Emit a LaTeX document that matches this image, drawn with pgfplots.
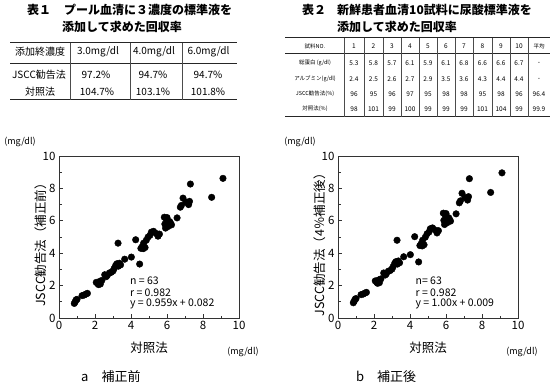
\documentclass[border=0pt]{standalone}
\usepackage{fontspec}
\setmainfont{Noto Sans CJK JP}
\usepackage{pgfplots}
\pgfplotsset{compat=1.18}
\newcommand{\fs}[1]{\fontsize{#1}{#1}\selectfont}

\pgfplotstableread{
x y
0.85 0.90
0.90 1.00
0.95 1.12
1.00 1.15
1.28 1.38
1.40 1.42
1.50 1.48
1.58 1.52
2.07 2.20
2.15 2.12
2.20 2.06
2.26 2.26
2.30 2.10
2.38 2.32
2.54 2.67
2.62 2.55
2.68 2.62
2.80 2.78
2.90 2.82
3.00 2.90
3.06 3.05
3.15 3.25
3.22 3.35
3.28 4.62
3.30 3.20
3.35 3.38
3.42 3.28
3.65 3.63
4.02 3.76
4.26 4.83
4.48 3.33
4.55 4.30
4.62 4.40
4.68 4.28
4.70 4.62
4.78 4.35
4.85 4.80
4.95 5.00
5.05 5.10
5.13 5.30
5.25 5.35
5.40 5.22
5.50 5.05
5.58 5.18
5.85 6.22
5.88 5.80
5.92 5.55
5.96 6.10
6.00 6.20
6.06 5.65
6.15 5.95
6.20 5.85
6.25 5.75
6.56 6.18
6.74 6.84
6.80 6.95
6.89 7.40
7.05 7.15
7.20 7.00
7.25 7.20
7.30 8.27
8.48 7.45
9.11 8.62
}\dataA

\pgfplotstableread{
x y
0.85 0.94
0.90 1.04
0.95 1.16
1.00 1.20
1.28 1.44
1.40 1.48
1.50 1.54
1.58 1.58
2.07 2.29
2.15 2.20
2.20 2.14
2.26 2.35
2.30 2.18
2.38 2.41
2.54 2.78
2.62 2.65
2.68 2.72
2.80 2.89
2.90 2.93
3.00 3.02
3.06 3.17
3.15 3.38
3.22 3.48
3.28 4.80
3.30 3.33
3.35 3.52
3.42 3.41
3.65 3.78
4.02 3.91
4.26 5.02
4.48 3.46
4.55 4.47
4.62 4.58
4.68 4.45
4.70 4.80
4.78 4.52
4.85 4.99
4.95 5.20
5.05 5.30
5.13 5.51
5.25 5.56
5.40 5.43
5.50 5.25
5.58 5.39
5.85 6.47
5.88 6.03
5.92 5.77
5.96 6.34
6.00 6.45
6.06 5.88
6.15 6.19
6.20 6.08
6.25 5.98
6.56 6.43
6.74 7.11
6.80 7.23
6.89 7.70
7.05 7.44
7.20 7.28
7.25 7.49
7.30 8.60
8.48 7.75
9.11 8.96
}\dataB

\pgfplotsset{
  myax/.style={
    scale only axis, width=180pt, height=162pt,
    xmin=0, xmax=10, ymin=0, ymax=10,
    xtick={0,2,...,10}, ytick={0,2,...,10},
    minor xtick={1,3,...,9}, minor ytick={1,3,...,9},
    tick align=inside, xtick pos=bottom, ytick pos=left,
    major tick length=4pt, minor tick length=2.5pt,
    tick label style={font=\fs{11.5}},
    /pgf/number format/assume math mode=true,
    axis line style={draw=black!80, line width=0.9pt},
    every tick/.style={black!80, line width=0.8pt},
    clip=false,
    every axis y label/.style={at={(axis description cs:-0.10,0.47)}, rotate=90, anchor=center, font=\fs{12.5}},
    every axis x label/.style={at={(axis description cs:0.5,-0.185)}, anchor=center, font=\fs{12.5}},
    xlabel={対照法},
  }
}

\begin{document}
\begin{tikzpicture}[x=1pt,y=-1pt]
\path[use as bounding box] (0,0) rectangle (551,387);

% ---------- Table 1 ----------
\node[anchor=west, inner sep=0, font=\fs{12}\bfseries] at (27,10) {表１};
\node[anchor=west, inner sep=0, font=\fs{12}\bfseries] at (64,10) {プール血清に３濃度の標準液を};
\node[anchor=west, inner sep=0, font=\fs{12}\bfseries] at (62,27) {添加して求めた回収率};
\draw[line width=1pt, black!85] (10,43) -- (237,43);
\draw[line width=0.8pt, black!85] (10,63) -- (237,63);
\draw[line width=1pt, black!85] (10,100) -- (237,100);
\foreach \xx in {70,130,182} \draw[line width=0.6pt, black!70] (\xx,43) -- (\xx,100);
\begin{scope}[every node/.style={font=\fs{10}, inner sep=0}]
\node at (40,52) {添加終濃度};
\node at (98,52) {3.0mg/dl};
\node at (154,52) {4.0mg/dl};
\node at (208.5,52) {6.0mg/dl};
\node at (39,75) {JSCC勧告法};
\node at (96,75) {97.2\%};
\node at (153,75) {94.7\%};
\node at (208,75) {94.7\%};
\node at (40,92) {対照法};
\node at (97,92) {104.7\%};
\node at (153,92) {103.1\%};
\node at (208,92) {101.8\%};
\end{scope}

% ---------- Table 2 ----------
\node[anchor=west, inner sep=0, font=\fs{12}\bfseries] at (302,10) {表２};
\node[anchor=west, inner sep=0, font=\fs{12}\bfseries] at (337,10) {新鮮患者血清10試料に尿酸標準液を};
\node[anchor=west, inner sep=0, font=\fs{12}\bfseries] at (337,27) {添加して求めた回収率};
\draw[line width=1pt, black!85] (285,38) -- (550,38);
\draw[line width=0.8pt, black!85] (285,53) -- (550,53);
\draw[line width=1pt, black!85] (285,117) -- (550,117);
\foreach \xx in {344,364,383,401,419,437,455,473,492,510,528} \draw[line width=0.5pt, black!70] (\xx,38) -- (\xx,117);
\begin{scope}[every node/.style={font=\fs{5.5}, inner sep=0}]
\node at (315,46) {試料NO.};
\node at (315,63) {総蛋白 (g/dl)};
\node at (315,79) {アルブミン(g/dl)};
\node at (315,94) {JSCC勧告法(\%)};
\node at (315,109) {対照法(\%)};
\node at (539,46) {平均};
\end{scope}
\begin{scope}[every node/.style={font=\fs{6.5}, inner sep=0}]
\foreach \cx/\a/\b/\c/\d/\e in {
  354/1/5.3/2.4/96/98,
  373.5/2/5.8/2.5/95/101,
  392/3/5.7/2.6/96/99,
  410/4/6.1/2.7/97/100,
  428/5/5.9/2.9/95/99,
  446/6/6.1/3.5/98/99,
  464/7/6.8/3.6/98/99,
  482.5/8/6.6/4.3/95/101,
  501/9/6.6/4.4/98/104,
  519/10/6.7/4.4/96/99}{
  \node at (\cx,46) {\a};
  \node at (\cx,63) {\b};
  \node at (\cx,79) {\c};
  \node at (\cx,94) {\d};
  \node at (\cx,109) {\e};
}
\node at (539,63) {-};
\node at (539,79) {-};
\node at (539,94) {96.4};
\node at (539,109) {99.9};
\end{scope}

% ---------- Plot a ----------
\begin{axis}[myax, at={(59pt,-318pt)}, anchor=south west, ylabel={JSCC勧告法（補正前）}]
\addplot[only marks, mark=*, mark size=3.3pt, black] table[x=x,y=y] {\dataA};
\node[anchor=west, inner sep=0, font=\fs{10.5}] at (axis cs:3.94,2.28) {n = 63};
\node[anchor=west, inner sep=0, font=\fs{10.5}] at (axis cs:3.94,1.57) {r = 0.982};
\node[anchor=west, inner sep=0, font=\fs{10.5}] at (axis cs:3.94,0.86) {y = 0.959x + 0.082};
\end{axis}
\node[font=\fs{9}, inner sep=0] at (20,142) {(mg/dl)};
\node[font=\fs{9}, inner sep=0] at (243,352) {(mg/dl)};
\node[anchor=west, font=\fs{13}, inner sep=0] at (81,377) {a　補正前};

% ---------- Plot b ----------
\begin{axis}[myax, at={(338pt,-318pt)}, anchor=south west, ylabel={JSCC勧告法（4％補正後）}]
\addplot[only marks, mark=*, mark size=3.3pt, black] table[x=x,y=y] {\dataB};
\node[anchor=west, inner sep=0, font=\fs{10.5}] at (axis cs:4.3,2.28) {n= 63};
\node[anchor=west, inner sep=0, font=\fs{10.5}] at (axis cs:4.3,1.57) {r = 0.982};
\node[anchor=west, inner sep=0, font=\fs{10.5}] at (axis cs:4.3,0.86) {y = 1.00x + 0.009};
\end{axis}
\node[font=\fs{9}, inner sep=0] at (300,142) {(mg/dl)};
\node[font=\fs{9}, inner sep=0] at (522,352) {(mg/dl)};
\node[anchor=west, font=\fs{13}, inner sep=0] at (356,377) {b　補正後};
\end{tikzpicture}
\end{document}
